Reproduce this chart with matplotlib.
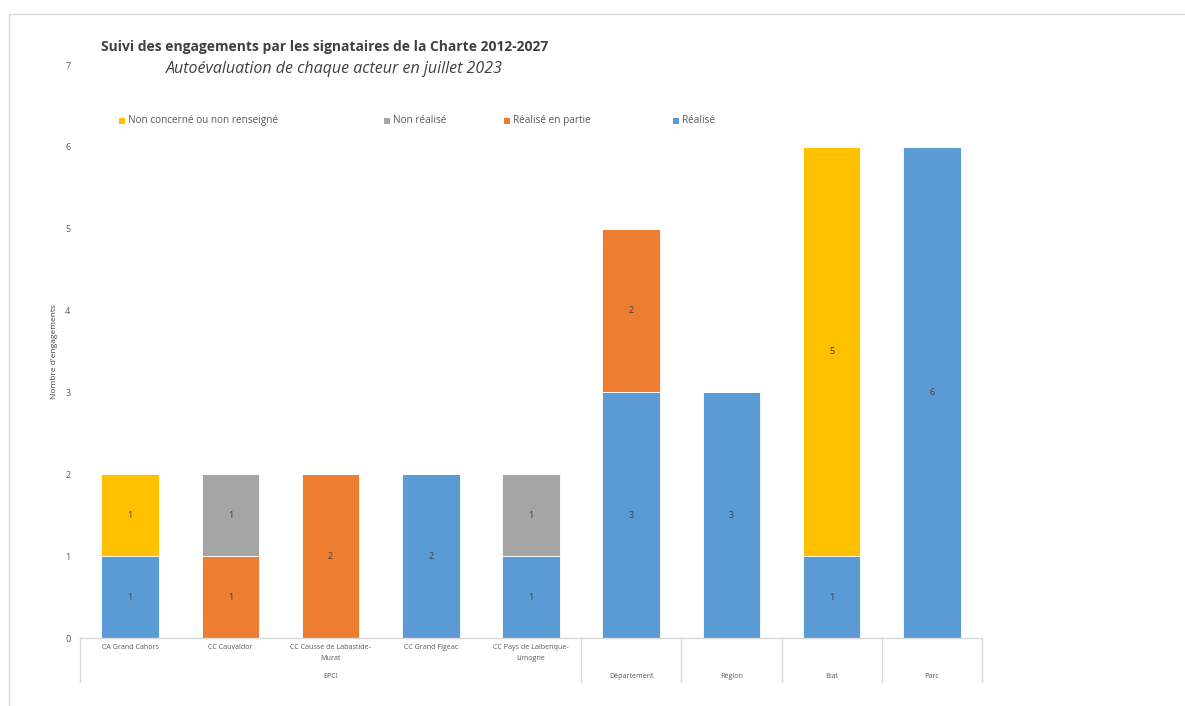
import matplotlib.pyplot as plt
import matplotlib.transforms as mtransforms
from matplotlib.patches import Rectangle
from matplotlib.lines import Line2D

plt.rcParams['font.family'] = ['Open Sans', 'DejaVu Sans']

# données
acteurs = ["CA Grand Cahors", "CC Cauvaldor", "CC Causse de Labastide-\nMurat",
           "CC Grand Figeac", "CC Pays de Lalbenque-\nLimogne",
           "", "", "", ""]
groupes = ["EPCI", "Département", "Région", "Etat", "Parc"]
groupe_debut = [0, 5, 6, 7, 8]
groupe_fin = [4, 5, 6, 7, 8]

series = ["Réalisé", "Réalisé en partie", "Non réalisé", "Non concerné ou non renseigné"]
realise = [1, 0, 0, 2, 1, 3, 3, 1, 6]
partie = [0, 1, 2, 0, 0, 2, 0, 0, 0]
non_realise = [0, 1, 0, 0, 1, 0, 0, 0, 0]
non_concerne = [1, 0, 0, 0, 0, 0, 0, 5, 0]
couleurs = ["#5B9BD5", "#ED7D31", "#A5A5A5", "#FFC000"]

W, H = 1185, 706
fig = plt.figure(figsize=(W / 100, H / 100), dpi=100)
ax = fig.add_axes([80 / W, 1 - 638 / H, (982 - 80) / W, (638 - 65) / H])

x = range(len(realise))
bas = [0] * len(realise)
gris_txt = "#595959"
for nom, vals, c in zip(series, [realise, partie, non_realise, non_concerne], couleurs):
    ax.bar(x, vals, width=0.575, bottom=bas, color=c, edgecolor="white", linewidth=0.6, label=nom)
    for xi, v, b in zip(x, vals, bas):
        if v > 0:
            ax.text(xi, b + v / 2, str(v), ha="center", va="center", fontsize=6.5, color="#404040")
    bas = [b + v for b, v in zip(bas, vals)]

ax.set_xlim(-0.5, 8.5)
ax.set_ylim(0, 7)
ax.set_yticks(range(0, 8))
ax.tick_params(axis="y", length=0, labelsize=6.5, labelcolor=gris_txt, pad=7)
ax.set_xticks([])
for s in ["top", "right", "left"]:
    ax.spines[s].set_visible(False)
ax.spines["bottom"].set_color("#D9D9D9")
ax.spines["bottom"].set_linewidth(1)
ax.set_ylabel("Nombre d'engagements", fontsize=6, color="#404040", labelpad=5)

# tableau des catégories
trans = mtransforms.blended_transform_factory(ax.transData, ax.transAxes)
h_tab = 44 / 573
for xs in [-0.5, 4.5, 5.5, 6.5, 7.5, 8.5]:
    ax.add_line(Line2D([xs, xs], [0, -h_tab], transform=trans, color="#D9D9D9", lw=1, clip_on=False))
for xi, lab in zip(x, acteurs):
    if lab:
        ax.text(xi, -6 / 573, lab, transform=trans, ha="center", va="top", fontsize=5.1,
                color=gris_txt, linespacing=1.7)
for g, d, f in zip(groupes, groupe_debut, groupe_fin):
    ax.text((d + f) / 2, -38 / 573, g, transform=trans, ha="center", va="center", fontsize=5.1, color=gris_txt)

# titre
fig.text(325 / W, 1 - 47 / H, "Suivi des engagements par les signataires de la Charte 2012-2027",
         ha="center", va="center", fontsize=10, fontweight="bold", color="#404040")
fig.text(334 / W, 1 - 69 / H, "Autoévaluation de chaque acteur en juillet 2023",
         ha="center", va="center", fontsize=11.5, style="italic", color="#404040")

# légende
leg_x = [123, 388, 508, 677]
for px, nom, c in zip(leg_x, series[::-1], couleurs[::-1]):
    fig.patches.append(Rectangle(((px - 4) / W, 1 - 124 / H), 6 / W, 6 / H, transform=fig.transFigure,
                                 facecolor=c, edgecolor="none"))
    fig.text((px + 5) / W, 1 - 120.5 / H, nom, ha="left", va="center", fontsize=7.2, color=gris_txt)

# cadre
fig.add_artist(Line2D([9 / W, 1], [1 - 14 / H, 1 - 14 / H], transform=fig.transFigure, color="#D9D9D9", lw=1))
fig.add_artist(Line2D([9 / W, 9 / W], [0, 1 - 14 / H], transform=fig.transFigure, color="#D9D9D9", lw=1))

fig.savefig("out.png", dpi=100)
